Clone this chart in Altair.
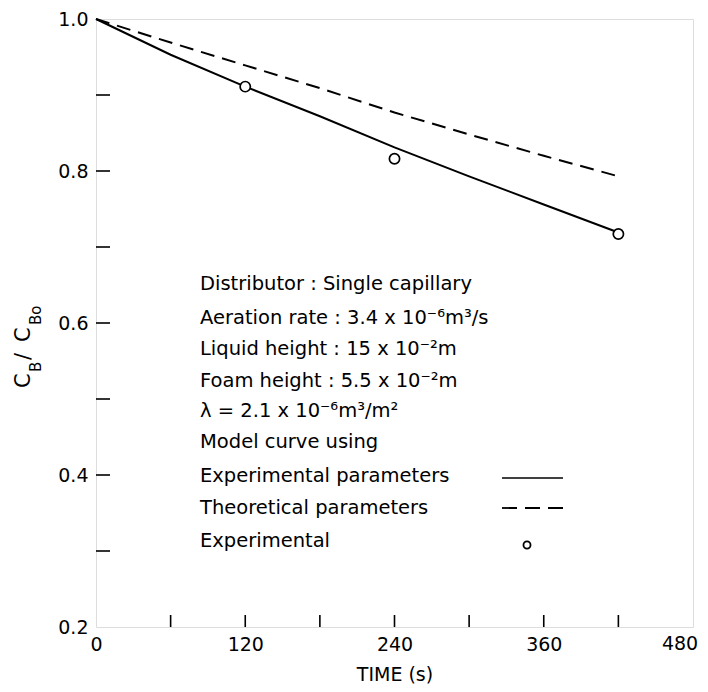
import altair as alt
import pandas as pd

# ---- data ----
time = [0, 60, 120, 180, 240, 300, 360, 420]
exp_model = [1.0, 0.953, 0.911, 0.872, 0.831, 0.793, 0.756, 0.719]
theo_model = [1.0, 0.969, 0.939, 0.909, 0.877, 0.848, 0.820, 0.793]
exp_time = [120, 240, 420]
exp_vals = [0.911, 0.816, 0.717]

x_tick_labels = [0, 120, 240, 360]
x_last_label = [480]
y_tick_labels = [0.2, 0.4, 0.6, 0.8, 1.0]
x_minor = [60, 120, 180, 240, 300, 360, 420]
y_minor = [0.3, 0.4, 0.5, 0.6, 0.7, 0.8, 0.9]

notes = [
    "Distributor : Single capillary",
    "Aeration rate : 3.4 x 10⁻⁶m³/s",
    "Liquid height : 15 x 10⁻²m",
    "Foam height : 5.5 x 10⁻²m",
    "λ = 2.1 x 10⁻⁶m³/m²",
    "Model curve using",
    "Experimental parameters",
    "Theoretical parameters",
    "Experimental",
]
note_y = [271, 305, 336, 368, 398, 429, 463, 495, 528]

FONT = "DejaVu Sans"
W, H = 597, 608

xs = alt.Scale(domain=[0, 480], nice=False)
ys = alt.Scale(domain=[0.2, 1.0], nice=False)

lines_df = pd.DataFrame({
    "t": time * 2,
    "v": exp_model + theo_model,
    "s": ["exp"] * len(time) + ["theo"] * len(time),
})
pts_df = pd.DataFrame({"t": exp_time, "v": exp_vals})

base_x = alt.X("t:Q", scale=xs,
               axis=alt.Axis(values=x_tick_labels, title="TIME (s)", grid=False,
                             ticks=False, domain=False, labelFontSize=19,
                             labelFont=FONT, labelColor="black",
                             labelPadding=8, titleFont=FONT, titleFontSize=19,
                             titleFontWeight="normal", titleColor="black", titlePadding=11,
                             labelFlush=False))
base_y = alt.Y("v:Q", scale=ys,
               axis=alt.Axis(values=y_tick_labels, format=".1f", title=None, grid=False,
                             ticks=False, domain=False, labelFontSize=19,
                             labelFont=FONT, labelColor="black",
                             labelPadding=8, labelFlush=False))

solid = alt.Chart(lines_df).transform_filter("datum.s == 'exp'").mark_line(
    color="black", strokeWidth=2).encode(x=base_x, y=base_y)
dashed = alt.Chart(lines_df).transform_filter("datum.s == 'theo'").mark_line(
    color="black", strokeWidth=2, strokeDash=[14, 8]).encode(x="t:Q", y="v:Q")
pts = alt.Chart(pts_df).mark_point(shape="circle", size=105, filled=True, fill="white",
                                   stroke="black", strokeWidth=1.7, opacity=1).encode(
    x="t:Q", y="v:Q")

# last x tick label, nudged so it stays on the page
last_lab = alt.Chart(pd.DataFrame({"t": x_last_label})).mark_text(
    baseline="top", align="center", dx=-13, font=FONT, fontSize=19,
    color="black").encode(x="t:Q", y=alt.value(H + 8), text=alt.Text("t:Q", format="d"))

# inward ticks
yt = alt.Chart(pd.DataFrame({"v": y_minor})).mark_rule(color="black", strokeWidth=1.6).encode(
    y="v:Q", x=alt.value(0), x2=alt.value(14))
xt = alt.Chart(pd.DataFrame({"t": x_minor})).mark_rule(color="black", strokeWidth=1.6).encode(
    x="t:Q", y=alt.value(H), y2=alt.value(H - 12))

# annotation block
notes_df = pd.DataFrame({"txt": notes, "py": note_y})
notes_layer = alt.Chart(notes_df).mark_text(align="left", baseline="alphabetic", font=FONT,
                                            fontSize=19.5, color="black").encode(
    x=alt.value(104), y=alt.Y("py:Q", scale=None), text="txt:N")

# legend samples
leg_solid = alt.Chart(pd.DataFrame({"a": [0]})).mark_rule(color="black", strokeWidth=1.6).encode(
    x=alt.value(406), x2=alt.value(467), y=alt.value(459))
leg_dash = alt.Chart(pd.DataFrame({"a": [0]})).mark_rule(color="black", strokeWidth=1.8,
                                                        strokeDash=[15, 8]).encode(
    x=alt.value(406), x2=alt.value(467), y=alt.value(489))
leg_pt = alt.Chart(pd.DataFrame({"a": [0]})).mark_point(shape="circle", size=50, filled=True,
                                                       fill="white", stroke="black",
                                                       strokeWidth=1.8, opacity=1).encode(
    x=alt.value(431), y=alt.value(526))

# y-axis title C_B / C_Bo built from pieces
ttl_df = pd.DataFrame({
    "txt": ["C", "B", "/", "C", "Bo"],
    "px": [-66, -55, -66, -66, -55],
    "py": [369, 353, 341, 323, 306],
    "fs": [21, 15, 21, 21, 15],
})
ytitle = alt.Chart(ttl_df).mark_text(align="left", baseline="alphabetic", angle=270,
                                     font=FONT, color="black").encode(
    x=alt.X("px:Q", scale=None), y=alt.Y("py:Q", scale=None), text="txt:N",
    size=alt.Size("fs:Q", scale=None, legend=None))

chart = alt.layer(solid, dashed, pts, last_lab, yt, xt, notes_layer, leg_solid, leg_dash,
                  leg_pt, ytitle).properties(
    width=W, height=H,
    autosize=alt.AutoSizeParams(type="none"),
    padding={"left": 88, "top": 11, "right": 7, "bottom": 57},
).configure_view(stroke="black", strokeWidth=1.6).configure(background="white")

chart.save("out.html", embed_options={"renderer": "svg", "actions": False})
